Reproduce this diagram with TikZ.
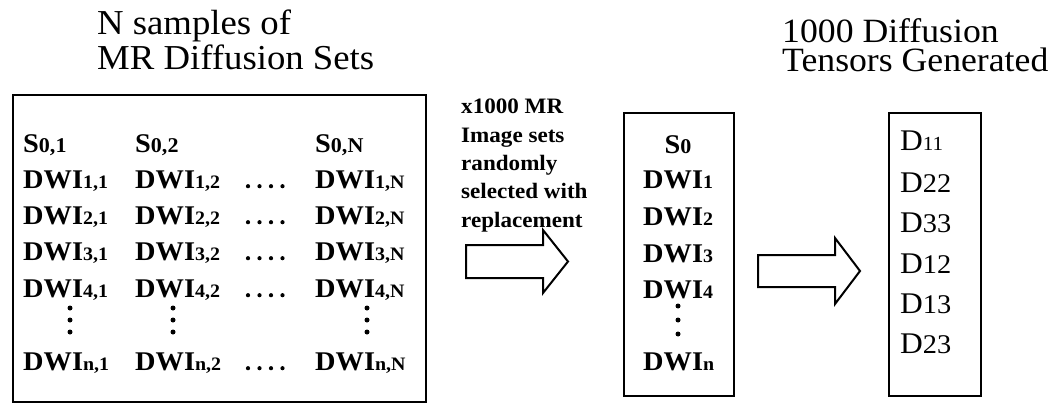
\documentclass[tikz,border=0pt]{standalone}
\usepackage{fontspec}
\setmainfont{Liberation Serif}
% slightly widened serif face
\newfontfamily\rmwide{Liberation Serif}[FakeStretch=1.05]
% small indices set on the baseline
\newcommand\lo[1]{{\fontsize{19}{19}\selectfont #1}}
\newcommand\loS[1]{{\fontsize{21}{21}\selectfont #1}}
\newcommand\lod[1]{{\fontsize{27}{27}\selectfont #1}}

\begin{document}
\begin{tikzpicture}[x=1pt,y=-1pt,
  frame/.style={draw, line width=2pt, inner sep=0, anchor=north west},
  head/.style={anchor=base west, inner sep=0, font=\rmwide\fontsize{35}{35}\selectfont},
  headr/.style={anchor=base west, inner sep=0, font=\rmwide\fontsize{34}{34}\selectfont},
  cell/.style={anchor=base west, inner sep=0, font=\rmwide\bfseries\fontsize{27}{27}\selectfont},
  note/.style={anchor=base west, inner sep=0, font=\rmwide\bfseries\fontsize{22}{22}\selectfont},
  tens/.style={anchor=base west, inner sep=0, font=\rmwide\fontsize{30}{30}\selectfont},
  vdot/.style={fill, circle, inner sep=0, minimum size=5pt},
  hdot/.style={fill, circle, inner sep=0, minimum size=4.2pt},
  hollow/.style={draw, line width=2pt, line join=miter}
]
\useasboundingbox (0,0) rectangle (1057,404);

% ---- headings
\node[head] (h1a) at (97,35) {N samples of};
\node[head] (h1b) at (97,70) {MR Diffusion Sets};
\node[headr, text depth=0pt] (h2a) at (782,43) {1000 Diffusion};
\node[headr, text height=22pt] (h2b) at (782,71) {Tensors Generated};

% ---- box of N sample sets
\node[frame, minimum width=413pt, minimum height=307pt] (samples) at (12,94) {};
\foreach \c/\x/\s in {1/23/1, 2/135/2, 3/315/N}{
  \node[cell] (s0\c) at (\x,152) {S\loS{0,\s}};
  \foreach \r/\y in {1/188, 2/224, 3/260, 4/297}{
    \node[cell] (d\r\c) at (\x,\y) {DWI\lo{\r,\s}};
  }
  \node[cell] (dn\c) at (\x,370) {DWI\lo{n,\s}};
}
% vertical ellipses
\foreach \x in {70,173,367}{
  \foreach \y in {308,320,332}{ \node[vdot] at (\x,\y) {}; }
}
% horizontal ellipses
\foreach \y in {188,224,260,297,370}{
  \foreach \x in {248,259.5,271,282.5}{ \node[hdot] at (\x,\y-1.8) {}; }
}

% ---- resampling note and arrow
\node[note] (n1) at (461,113) {x1000 MR};
\node[note] (n2) at (461,142) {Image sets};
\node[note] (n3) at (461,170) {randomly};
\node[note] (n4) at (461,198) {selected with};
\node[note] (n5) at (461,227) {replacement};
\draw[hollow] (466,245) -- (543,245) -- (543,230) -- (568,261.5)
  -- (543,293) -- (543,278) -- (466,278) -- cycle;

% ---- one resampled set
\node[frame, minimum width=110pt, minimum height=283pt] (pick) at (623,112) {};
\node[cell, anchor=base] (p0) at (678,153) {S\loS{0}};
\foreach \r/\y in {1/188, 2/225, 3/262, 4/298}{
  \node[cell] (p\r) at (643,\y) {DWI\lo{\r}};
}
\node[cell] (pn) at (643,370) {DWI\lo{n}};
\foreach \y in {306,320,334}{ \node[vdot] at (678,\y) {}; }

% ---- arrow to the tensor components
\draw[hollow] (758,255) -- (835,255) -- (835,238) -- (860,271)
  -- (835,304) -- (835,287) -- (758,287) -- cycle;

% ---- tensor components
\node[frame, minimum width=92pt, minimum height=283pt] (tensor) at (888,112) {};
\node[tens] (t11) at (900,150) {D{\fontsize{20}{20}\selectfont 11}};
\node[tens] (t22) at (900,192) {D\lod{22}};
\node[tens] (t33) at (900,232) {D\lod{33}};
\node[tens] (t12) at (900,273) {D\lod{12}};
\node[tens] (t13) at (900,313) {D\lod{13}};
\node[tens] (t23) at (900,353) {D\lod{23}};
\end{tikzpicture}
\end{document}
